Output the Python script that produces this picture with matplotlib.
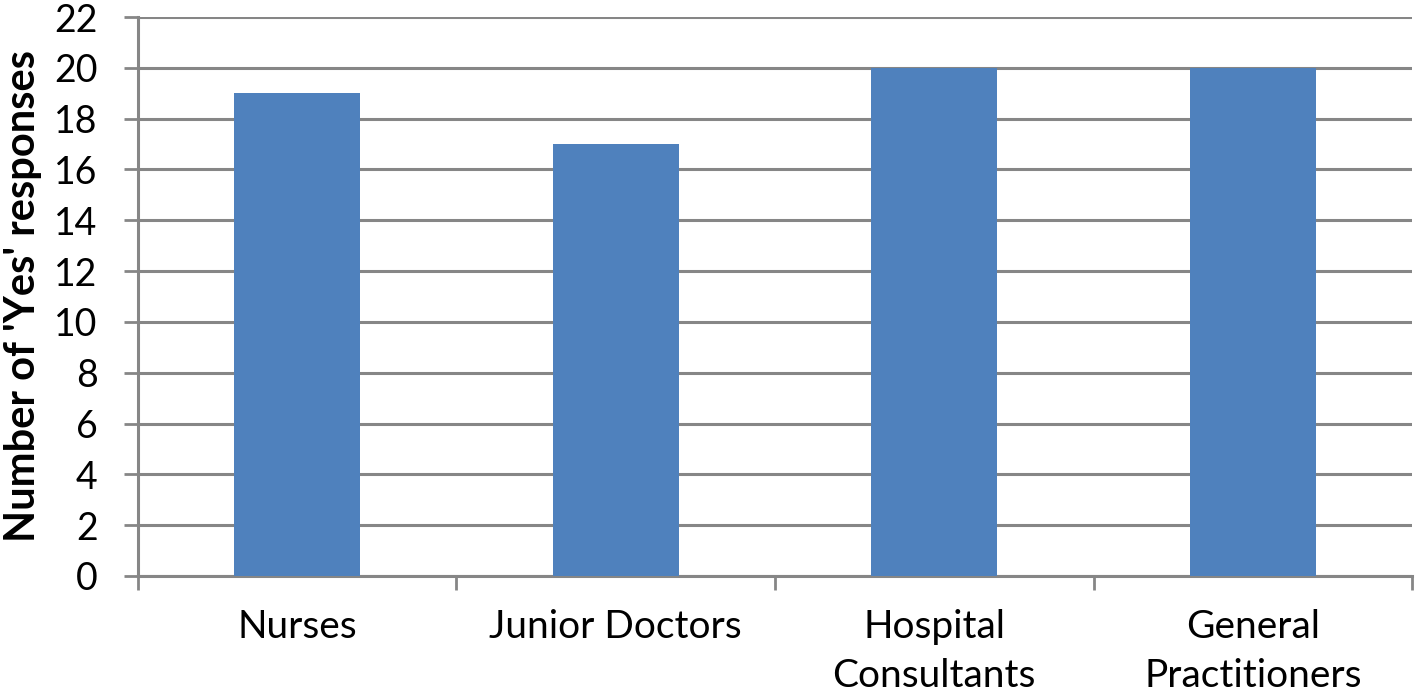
import numpy as np
import matplotlib.pyplot as plt
from matplotlib.ticker import FixedLocator, NullFormatter

categories = ['Nurses', 'Junior Doctors', 'Hospital\nConsultants', 'General\nPractitioners']
yes_counts = [19, 17, 20, 20]
y_ticks = list(range(0, 23, 2))

plt.rcParams['font.family'] = ['Lato', 'DejaVu Sans']

fig = plt.figure(figsize=(14.18, 6.98), dpi=100)
ax = fig.add_axes([0.0973, 0.1748, 0.8985, 0.8008])

x = np.arange(len(categories))
ax.bar(x, yes_counts, width=0.395, color='#4F81BD', zorder=3)

ax.set_xlim(-0.5, len(categories) - 0.5)
ax.set_ylim(0, 22)
ax.set_yticks(y_ticks)
ax.yaxis.grid(True, color='#868686', linewidth=2.2, zorder=0)

# category labels centred, ticks between categories
ax.set_xticks(x)
ax.set_xticklabels(categories, fontsize=28, linespacing=1.42)
ax.tick_params(axis='x', which='major', length=0, pad=24)
ax.xaxis.set_minor_locator(FixedLocator(np.arange(-0.5, len(categories), 1.0)))
ax.xaxis.set_minor_formatter(NullFormatter())
ax.tick_params(axis='x', which='minor', length=10, width=2, color='#868686')

ax.tick_params(axis='y', labelsize=27, length=10, width=2, color='#868686', pad=19)

for side in ['top', 'right']:
    ax.spines[side].set_visible(False)
for side in ['left', 'bottom']:
    ax.spines[side].set_color('#868686')
    ax.spines[side].set_linewidth(2.2)

fig.text(0.0165, 0.576, "Number of 'Yes' responses", fontsize=30, fontweight='bold',
         rotation=90, ha='center', va='center')

fig.savefig('out.png', dpi=100)
